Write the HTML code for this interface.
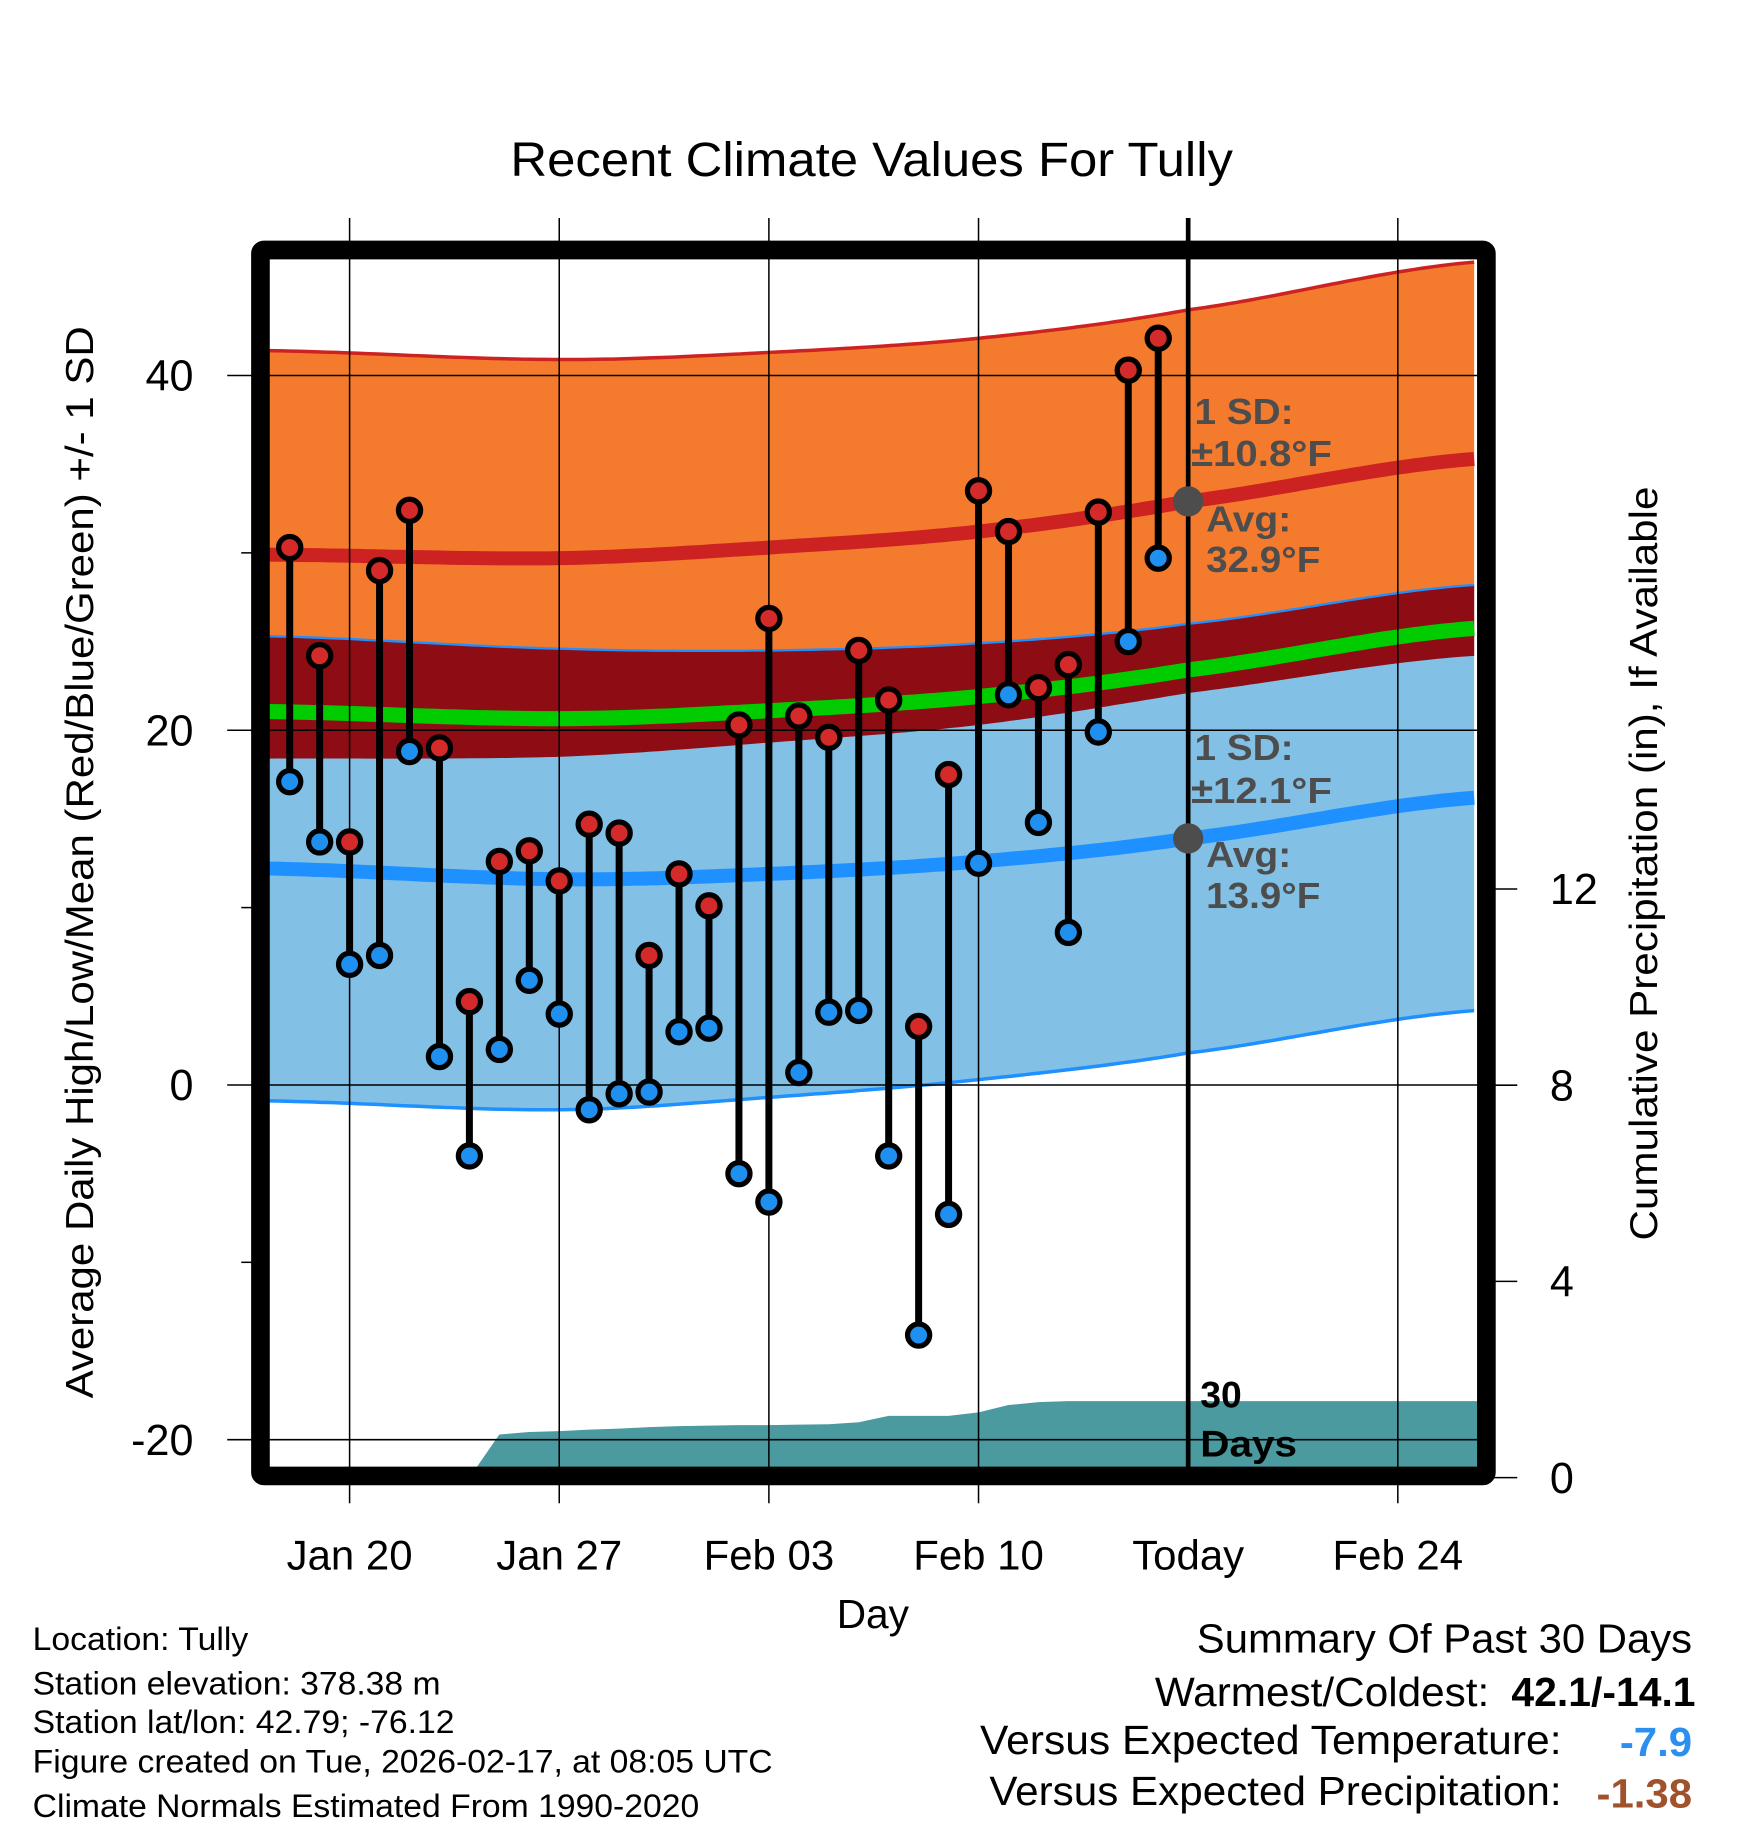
<!DOCTYPE html>
<html><head><meta charset="utf-8"><style>
html,body{margin:0;padding:0;background:#fff}
svg{display:block;font-family:"Liberation Sans",Arial,sans-serif}
</style></head><body>
<svg id="chart" xmlns="http://www.w3.org/2000/svg" width="1748" height="1828" viewBox="0 0 1500 1568.6">
<rect width="1500" height="1570" fill="#fff"/>
<g id="bands"></g>
<g id="grid"></g>
<g id="marks"></g>
<g id="frame"></g>
<g id="labels"></g>
</svg>
<script>
// ---- data ----
const dayLabels = ["Jan 20","Jan 27","Feb 03","Feb 10","Today","Feb 24"];
const dayLabelIdx = [0,7,14,21,28,35];
const obsStartDay = -2;
const highs = [30.3,24.2,13.7,29.0,32.4,19.0,4.7,12.6,13.2,11.5,14.7,14.2,7.3,11.9,10.1,20.3,26.3,20.8,19.6,24.5,21.7,3.3,17.5,33.5,31.2,22.4,23.7,32.3,40.3,42.1];
const lows  = [17.1,13.7,6.8,7.3,18.8,1.6,-4.0,2.0,5.9,4.0,-1.4,-0.5,-0.4,3.0,3.2,-5.0,-6.6,0.7,4.1,4.2,-4.0,-14.1,-7.3,12.5,22.0,14.8,8.6,19.9,25.0,29.7];
const normDays = [-2.7,7,14,21,28,37.6];
const highMean = [29.9,29.7,30.3,31.2,32.9,35.3];
const highSD   = [11.5,11.2,11.0,10.9,10.8,11.1];
const lowMean  = [12.2,11.6,11.9,12.6,13.9,16.2];
const lowSD    = [13.1,13.0,12.6,12.3,12.1,12.0];
const precipDays = [4,5,6,7,8,9,10,11,12,13,14,15,16,17,18,19,20,21,22,23,24,25,26,27];
const precipCum  = [0,0.88,0.93,0.95,0.98,1.0,1.03,1.05,1.06,1.07,1.07,1.08,1.09,1.13,1.26,1.26,1.26,1.33,1.48,1.54,1.56,1.56,1.56,1.56];
const tempTicks = [40,20,0,-20];
const minorTicks = [30,10,-10];
const precipTicks = [0,4,8,12];

// ---- axes ----
const X = d => 300 + 25.7*d;
const Y = v => 931 - 15.22*v;
const P = p => 1268 - 42.1*p;
const L=231,R=1268,T=222,B=1259;
const NS="http://www.w3.org/2000/svg";
function el(tag,attrs,parent,text){const e=document.createElementNS(NS,tag);for(const k in attrs)e.setAttribute(k,attrs[k]);if(text!==undefined)e.textContent=text;parent.appendChild(e);return e;}
function interp(arr,d){
  let i=0;while(i<normDays.length-2&&d>normDays[i+1])i++;
  const t=(d-normDays[i])/(normDays[i+1]-normDays[i]);
  const p0=arr[Math.max(i-1,0)],p1=arr[i],p2=arr[i+1],p3=arr[Math.min(i+2,arr.length-1)];
  return 0.5*((2*p1)+(-p0+p2)*t+(2*p0-5*p1+4*p2-p3)*t*t+(-p0+3*p1-3*p2+p3)*t*t*t);
}
const samples=[];for(let d=-2.7;d<=37.61;d+=0.25)samples.push(Math.min(d,37.6));
const f=(fn)=>samples.map(d=>[X(d),Y(fn(d))]);
const hm=d=>interp(highMean,d),hs=d=>interp(highSD,d),lm=d=>interp(lowMean,d),ls=d=>interp(lowSD,d);
function band(top,bot){const a=f(top),b=f(bot).reverse();return "M"+a.concat(b).map(p=>p[0].toFixed(1)+","+p[1].toFixed(1)).join("L")+"Z";}
function line(fn){return "M"+f(fn).map(p=>p[0].toFixed(1)+","+p[1].toFixed(1)).join("L");}
const gb=document.getElementById('bands');
const clip=el('clipPath',{id:'plotclip'},gb);el('rect',{x:L,y:T,width:R-L,height:B-T},clip);
const gc=el('g',{'clip-path':'url(#plotclip)'},gb);
let e;
e=el('path',{d:band(d=>hm(d)+hs(d),d=>hm(d)-hs(d)),fill:'#f47a2d'},gc);

e=el('path',{d:band(d=>lm(d)+ls(d),d=>lm(d)-ls(d)),fill:'#82c0e6'},gc);

e=el('path',{d:band(d=>lm(d)+ls(d),d=>hm(d)-hs(d)),fill:'#8e0c14'},gc);

e=el('path',{d:line(d=>hm(d)+hs(d)),fill:'none',stroke:'#cc2222',"stroke-width":3},gc);

e=el('path',{d:line(d=>lm(d)+ls(d)),fill:'none',stroke:'#1e90ff',"stroke-width":2},gc);

e=el('path',{d:line(d=>lm(d)-ls(d)),fill:'none',stroke:'#1e90ff',"stroke-width":3},gc);

e=el('path',{d:line(hm),fill:'none',stroke:'#cc2222',"stroke-width":12},gc);

e=el('path',{d:line(lm),fill:'none',stroke:'#1e90ff',"stroke-width":12},gc);

e=el('path',{d:line(d=>(hm(d)+lm(d))/2),fill:'none',stroke:'#00cc00',"stroke-width":13},gc);

let pd="M"+X(precipDays[0])+","+P(0);
precipDays.forEach((d,i)=>{pd+="L"+X(d)+","+P(precipCum[i]);});
pd+="L"+R+","+P(precipCum[precipCum.length-1])+"L"+R+","+P(0)+"Z";
e=el('path',{d:pd,fill:'#4a9aa0'},gc);


const gg=document.getElementById('grid');
dayLabelIdx.forEach((d,i)=>{
  e=el('line',{x1:X(d),x2:X(d),y1:187,y2:1290,stroke:'#000','stroke-width':i==4?0:1.3},gg);
  
});
tempTicks.forEach(v=>{
  e=el('line',{x1:195,x2:R,y1:Y(v),y2:Y(v),stroke:'#000','stroke-width':1.3},gg);
  
});
minorTicks.forEach(v=>{
  e=el('line',{x1:207,x2:218,y1:Y(v),y2:Y(v),stroke:'#000','stroke-width':1.3},gg);
  
});
precipTicks.forEach(p=>{
  e=el('line',{x1:1282,x2:1302,y1:P(p),y2:P(p),stroke:'#000','stroke-width':1.3},gg);
  
});

const gm=document.getElementById('marks');
e=el('line',{x1:X(28),x2:X(28),y1:187,y2:B,stroke:'#000','stroke-width':4},gm);

highs.forEach((h,i)=>{
  const x=X(obsStartDay+i);
  e=el('line',{x1:x,x2:x,y1:Y(h),y2:Y(lows[i]),stroke:'#000','stroke-width':6},gm);
  
});
highs.forEach((h,i)=>{
  const x=X(obsStartDay+i);
  e=el('circle',{cx:x,cy:Y(h),r:9.5,fill:'#d42a2a',stroke:'#000','stroke-width':4.5},gm);
  
  e=el('circle',{cx:x,cy:Y(lows[i]),r:9.5,fill:'#2090f0',stroke:'#000','stroke-width':4.5},gm);
  
});
e=el('circle',{cx:X(28),cy:Y(hm(28)),r:13,fill:'#4d4d4d'},gm);

e=el('circle',{cx:X(28),cy:Y(lm(28)),r:13,fill:'#4d4d4d'},gm);


e=el('rect',{x:223.5,y:214.5,width:1052,height:1052,fill:'none',stroke:'#000','stroke-width':16,rx:3},document.getElementById('frame'));


const gl=document.getElementById('labels');
dayLabels.forEach((s,i)=>{
  e=el('text',{x:X(dayLabelIdx[i]),y:1347,'font-size':36,'text-anchor':'middle',fill:'#000'},gl,s);
  
});
tempTicks.forEach(v=>{
  e=el('text',{x:166,y:Y(v)+13,'font-size':37,'text-anchor':'end',fill:'#000'},gl,String(v));
  
});
precipTicks.forEach(p=>{
  e=el('text',{x:1330,y:P(p)+13,'font-size':37,'text-anchor':'start',fill:'#000'},gl,String(p));
  
});
</script>
<svg style="position:absolute;left:0;top:0" width="1748" height="1828" viewBox="0 0 1500 1568.6" xmlns="http://www.w3.org/2000/svg" font-family="Liberation Sans, Arial, sans-serif">
<text x="438" y="151" font-size="41" textLength="620" lengthAdjust="spacingAndGlyphs">Recent Climate Values For Tully</text>
<text x="718" y="1397" font-size="35" textLength="62" lengthAdjust="spacingAndGlyphs">Day</text>
<text transform="translate(80,740) rotate(-90)" font-size="33" text-anchor="middle" textLength="920" lengthAdjust="spacingAndGlyphs">Average Daily High/Low/Mean (Red/Blue/Green) +/- 1 SD</text>
<text transform="translate(1422,741) rotate(-90)" font-size="33" text-anchor="middle" textLength="647" lengthAdjust="spacingAndGlyphs">Cumulative Precipitation (in), If Available</text>
<g font-weight="bold" fill="#4d4d4d" font-size="31">
<text x="1025" y="364" textLength="85" lengthAdjust="spacingAndGlyphs">1 SD:</text>
<text x="1022" y="400" textLength="121" lengthAdjust="spacingAndGlyphs">±10.8°F</text>
<text x="1035" y="456" textLength="73" lengthAdjust="spacingAndGlyphs">Avg:</text>
<text x="1035" y="491" textLength="98" lengthAdjust="spacingAndGlyphs">32.9°F</text>
<text x="1025" y="652" textLength="85" lengthAdjust="spacingAndGlyphs">1 SD:</text>
<text x="1022" y="689" textLength="121" lengthAdjust="spacingAndGlyphs">±12.1°F</text>
<text x="1035" y="744" textLength="73" lengthAdjust="spacingAndGlyphs">Avg:</text>
<text x="1035" y="779" textLength="98" lengthAdjust="spacingAndGlyphs">13.9°F</text>
</g>
<text x="1030" y="1208" font-size="32" font-weight="bold">30</text>
<text x="1030" y="1250" font-size="32" font-weight="bold" textLength="83" lengthAdjust="spacingAndGlyphs">Days</text>
<g font-size="28" fill="#000">
<text x="28" y="1416" textLength="185" lengthAdjust="spacingAndGlyphs">Location: Tully</text>
<text x="28" y="1454" textLength="350" lengthAdjust="spacingAndGlyphs">Station elevation: 378.38 m</text>
<text x="28" y="1487" textLength="362" lengthAdjust="spacingAndGlyphs">Station lat/lon: 42.79; -76.12</text>
<text x="28" y="1521" textLength="635" lengthAdjust="spacingAndGlyphs">Figure created on Tue, 2026-02-17, at 08:05 UTC</text>
<text x="28" y="1559" textLength="572" lengthAdjust="spacingAndGlyphs">Climate Normals Estimated From 1990-2020</text>
</g>
<g font-size="35">
<text x="1027" y="1418" textLength="425" lengthAdjust="spacingAndGlyphs">Summary Of Past 30 Days</text>
<text x="991" y="1464" textLength="287" lengthAdjust="spacingAndGlyphs">Warmest/Coldest:</text>
<text x="1297" y="1464" font-weight="bold" textLength="158" lengthAdjust="spacingAndGlyphs">42.1/-14.1</text>
<text x="841" y="1505" textLength="499" lengthAdjust="spacingAndGlyphs">Versus Expected Temperature:</text>
<text x="1390" y="1507" font-weight="bold" fill="#2b8ff0" textLength="62" lengthAdjust="spacingAndGlyphs">-7.9</text>
<text x="849" y="1549" textLength="491" lengthAdjust="spacingAndGlyphs">Versus Expected Precipitation:</text>
<text x="1370" y="1551" font-weight="bold" fill="#a0522d" textLength="82" lengthAdjust="spacingAndGlyphs">-1.38</text>
</g>
</svg>
</body></html>
